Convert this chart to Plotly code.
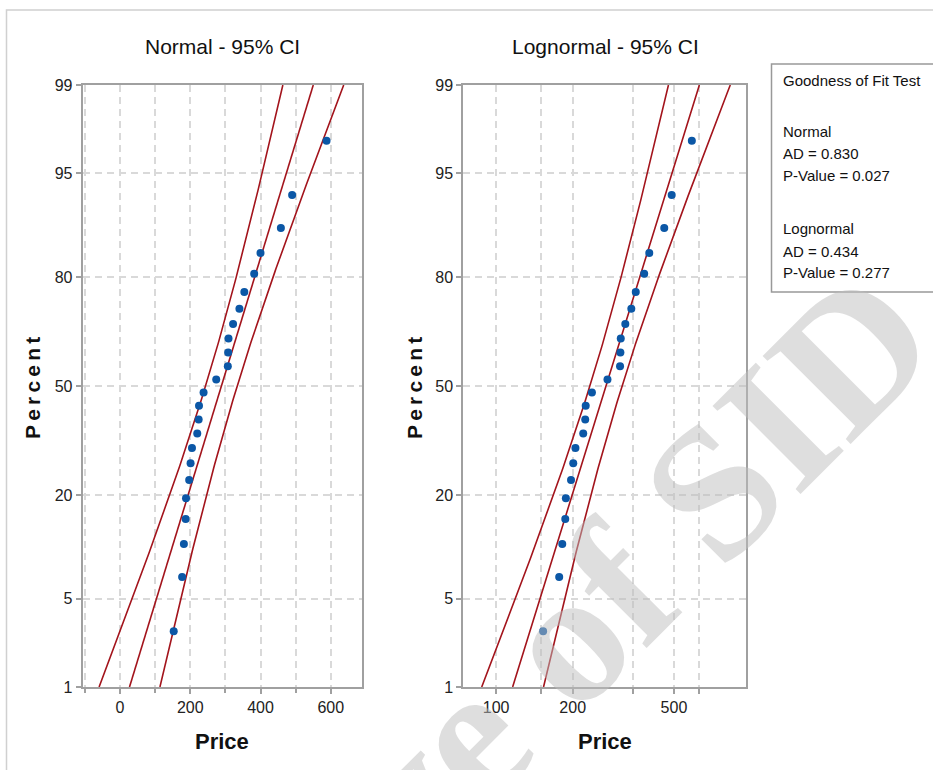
import math
from statistics import NormalDist
import plotly.graph_objects as go

# ---------------- data ----------------
price = [153, 177, 182, 187, 188, 197, 201, 205, 220, 224, 225, 238,
         274, 307, 308, 309, 322, 340, 354, 382, 400, 458, 490, 588]
percent = [2.9, 7.0, 11.1, 15.2, 19.3, 23.4, 27.5, 31.6, 35.7, 39.8, 43.9, 48.0,
           52.0, 56.1, 60.2, 64.3, 68.4, 72.5, 76.6, 80.7, 84.8, 88.9, 93.0, 97.1]
y_tick_pcts = [1, 5, 20, 50, 80, 95, 99]
normal_x_ticks = [0, 200, 400, 600]
lognormal_x_ticks = [100, 200, 500]
lognormal_x_grid = [100, 150, 200, 345, 500, 625]
panel_titles = ["Normal - 95% CI", "Lognormal - 95% CI"]
gof_lines = ["Goodness of Fit Test", "", "Normal", "AD = 0.830", "P-Value = 0.027",
             "", "Lognormal", "AD = 0.434", "P-Value = 0.277"]

W, H = 933, 770
def px(x): return x / W
def py(y): return 1 - y / H

nd = NormalDist()
z = lambda p: nd.inv_cdf(p / 100.0)
n = len(price)
zc = 1.959964

# fitted lines + 95% CI (from the data)
zgrid = [z(1) + i * (z(99) - z(1)) / 200 for i in range(201)]
mu = sum(price) / n
sd = math.sqrt(sum((v - mu) ** 2 for v in price) / (n - 1))
lp = [math.log(v) for v in price]
mul = sum(lp) / n
sdl = math.sqrt(sum((v - mul) ** 2 for v in lp) / (n - 1))

def band(m, s, k):
    return [m + q * s + k * zc * s / math.sqrt(n) * math.sqrt(1 + q * q / 2) for q in zgrid]

RED = "#a3141c"
BLUE = "#0b57a6"
fig = go.Figure()
for k in (-1, 0, 1):
    fig.add_trace(go.Scatter(x=band(mu, sd, k), y=zgrid, mode="lines",
                             line=dict(color=RED, width=1.6), xaxis="x", yaxis="y",
                             hoverinfo="skip", showlegend=False))
    fig.add_trace(go.Scatter(x=[math.exp(v) for v in band(mul, sdl, k)], y=zgrid, mode="lines",
                             line=dict(color=RED, width=1.6), xaxis="x2", yaxis="y2",
                             hoverinfo="skip", showlegend=False))
yz = [z(p) for p in percent]
fig.add_trace(go.Scatter(x=price, y=yz, mode="markers", marker=dict(color=BLUE, size=8),
                         xaxis="x", yaxis="y", showlegend=False))
fig.add_trace(go.Scatter(x=price, y=yz, mode="markers", marker=dict(color=BLUE, size=8),
                         xaxis="x2", yaxis="y2", showlegend=False))

FONT = "Liberation Sans, Arial, sans-serif"
GRID = "#d9d9d9"
FRAME = "#a0a0a0"
tickfont = dict(family=FONT, size=16, color="#222")

yax = dict(range=[z(1), z(99)], tickvals=[z(p) for p in y_tick_pcts],
           ticktext=[str(p) for p in y_tick_pcts], ticks="outside", ticklen=5,
           tickcolor=FRAME, tickwidth=1.5, showgrid=True, gridcolor=GRID, gridwidth=1.5,
           griddash="7px,5px", showline=True, linecolor=FRAME, linewidth=2, mirror=True,
           zeroline=False, tickfont=tickfont, domain=[py(687), py(85)], fixedrange=True,
           automargin=False)

left_dom = [px(82.7), px(361.7)]
right_dom = [px(463.3), px(746)]

fig.update_layout(
    width=W, height=H, margin=dict(l=0, r=0, t=0, b=0, pad=0, autoexpand=False),
    paper_bgcolor="white", plot_bgcolor="white", showlegend=False,
    xaxis=dict(domain=left_dom, range=[-106, 688], tickvals=normal_x_ticks,
               ticks="outside", ticklen=5, tickcolor=FRAME, tickwidth=1.5,
               showgrid=True, gridcolor=GRID, gridwidth=1.5, griddash="7px,5px",
               minor=dict(dtick=100, tick0=0, showgrid=True, gridcolor=GRID, gridwidth=1.5,
                          griddash="7px,5px", ticks="outside", ticklen=4, tickcolor=FRAME),
               showline=True, linecolor=FRAME, linewidth=2, mirror=True, zeroline=False,
               tickfont=tickfont, anchor="y", automargin=False),
    yaxis=dict(yax, anchor="x"),
    xaxis2=dict(domain=right_dom, type="log", range=[math.log10(74.3), math.log10(960)],
                tickvals=lognormal_x_grid,
                ticktext=[str(v) if v in lognormal_x_ticks else "" for v in lognormal_x_grid],
                ticks="outside", ticklen=5, tickcolor=FRAME, tickwidth=1.5,
                showgrid=True, gridcolor=GRID, gridwidth=1.5, griddash="7px,5px",
                showline=True, linecolor=FRAME, linewidth=2, mirror=True, zeroline=False,
                tickfont=tickfont, anchor="y2", automargin=False),
    yaxis2=dict(yax, anchor="x2"),
)

ann = []
# watermark
ann.append(dict(text="<b>Archive of SID</b>", x=px(472), y=py(732), xref="paper", yref="paper",
                showarrow=False, textangle=-45, xanchor="center", yanchor="middle",
                font=dict(family="Liberation Serif, DejaVu Serif, serif", size=190,
                          color="rgba(190,190,190,0.5)")))
for t, cx in zip(panel_titles, [222, 605]):
    ann.append(dict(text=t, x=px(cx), y=py(47), xref="paper", yref="paper", showarrow=False,
                    xanchor="center", yanchor="middle", font=dict(family=FONT, size=21, color="#111")))
for cx in [222, 605]:
    ann.append(dict(text="<b>Price</b>", x=px(cx), y=py(741), xref="paper", yref="paper",
                    showarrow=False, xanchor="center", yanchor="middle",
                    font=dict(family=FONT, size=22, color="#111")))
for cx in [33, 415]:
    ann.append(dict(text="<b>P\u2009e\u2009r\u2009c\u2009e\u2009n\u2009t</b>", x=px(cx), y=py(388),
                    xref="paper", yref="paper", showarrow=False, textangle=-90,
                    xanchor="center", yanchor="middle",
                    font=dict(family=FONT, size=21, color="#111")))
gy = [81, None, 131, 154, 176, None, 228, 251, 273]
for t, yy in zip(gof_lines, gy):
    if t:
        ann.append(dict(text=t, x=px(781), y=py(yy), xref="paper", yref="paper",
                        showarrow=False, xanchor="left", yanchor="middle",
                        font=dict(family=FONT, size=15, color="#111")))
fig.update_layout(annotations=ann)

fig.update_layout(shapes=[
    dict(type="rect", xref="paper", yref="paper", x0=px(6.5), x1=1.2, y0=-0.2, y1=py(10),
         line=dict(color="#d0d0d0", width=1.5), layer="below"),
    dict(type="rect", xref="paper", yref="paper", x0=px(771.5), x1=px(945), y0=py(292), y1=py(64),
         line=dict(color="#999999", width=1.5), fillcolor="rgba(0,0,0,0)", layer="above"),
])

fig.write_html("out.html", config={"displayModeBar": False},
               post_script="document.body.style.margin='0';document.body.style.overflow='hidden';")
